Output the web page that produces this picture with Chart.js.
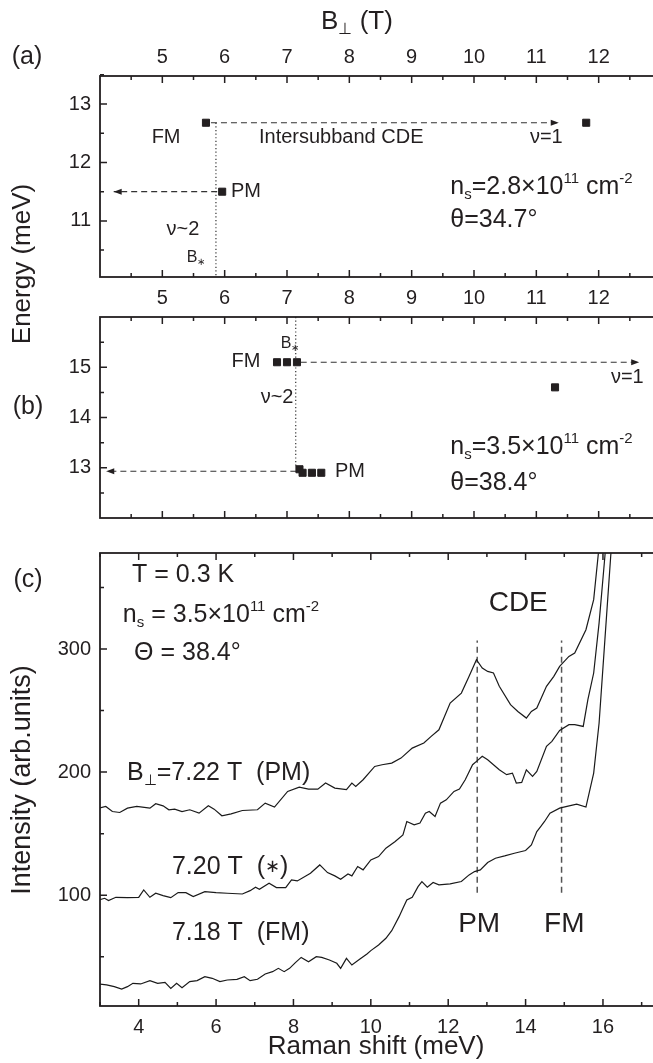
<!DOCTYPE html>
<html><head><meta charset="utf-8">
<script src="https://cdn.jsdelivr.net/npm/chart.js@4.4.1/dist/chart.umd.min.js"></script>
<style>
html,body{margin:0;padding:0;overflow:hidden;background:#fff;width:653px;height:1063px}
#wrap{position:absolute;left:0;top:0;width:680px;height:1063px}
canvas{position:absolute;left:0;top:0}
</style></head><body><div id="wrap">
<canvas id="ca" width="680" height="1063"></canvas>
<canvas id="cb" width="680" height="1063"></canvas>
<canvas id="cc" width="680" height="1063"></canvas>
</div>
<script>
// ---------- DATA ----------
// Panel (a): B_perp (T) vs energy (meV), ns=2.8e11
const aXTicks = [4.5,5,5.5,6,6.5,7,7.5,8,8.5,9,9.5,10,10.5,11,11.5,12,12.5];
const aXLabels = [5,6,7,8,9,10,11,12];
const aYTicks = [10.5,11,11.5,12,12.5,13,13.5];
const aYLabels = [11,12,13];
const aPointsX = [5.70, 11.80, 5.96];
const aPointsY = [12.68, 12.68, 11.50];
const aArrowCDE_X = [5.78, 11.36], aArrowCDE_Y = [12.68, 12.68];
const aArrowPM_X = [5.88, 4.22],  aArrowPM_Y = [11.50, 11.50];
const aBstar_X = [5.86, 5.86],    aBstar_Y = [12.68, 10.04];

// Panel (b): ns=3.5e11
const bXTicks = aXTicks;
const bYTicks = [12.5,13,13.5,14,14.5,15,15.5];
const bYLabels = [13,14,15];
const bFMX = [6.84, 7.00, 7.16], bFMY = [15.1, 15.1, 15.1];
const bNu1X = [11.3], bNu1Y = [14.6];
const bPMX = [7.20, 7.25, 7.40, 7.55], bPMY = [12.97, 12.90, 12.90, 12.90];
const bArrowFM_X = [7.22, 12.65], bArrowFM_Y = [15.1, 15.1];
const bArrowPM_X = [7.15, 4.10],  bArrowPM_Y = [12.93, 12.93];
const bBstar_X = [7.14, 7.14],    bBstar_Y = [16.0, 13.0];

// Panel (c): Raman shift (meV) vs intensity (arb. units)
const cXTicks = [3,4,5,6,7,8,9,10,11,12,13,14,15,16,17];
const cXLabels = [4,6,8,10,12,14,16];
const cYTicks = [50,100,150,200,250,300,350];
const cYLabels = [100,200,300];
const pmX = [2.98,3.15,3.32,3.51,3.71,3.95,4.29,4.44,4.63,4.78,4.93,5.12,5.32,5.56,5.80,5.95,6.15,6.39,6.68,7.07,7.27,7.51,7.85,8.15,8.39,8.63,8.83,9.07,9.37,9.51,9.61,9.80,10.10,10.29,10.54,10.78,11.07,11.37,11.56,11.76,12.05,12.34,12.54,12.73,12.88,13.02,13.17,13.32,13.61,13.80,14.02,14.15,14.29,14.54,14.73,14.88,15.12,15.27,15.56,15.76,15.90];
const pmY = [170.7,172.1,168.0,167.2,170.7,172.1,170.7,174.3,172.6,169.4,169.9,168.0,169.4,166.7,172.6,169.9,164.5,166.1,168.8,169.4,174.8,171.6,184.3,187.8,186.2,186.2,191.1,187.0,185.7,191.1,188.4,193.8,204.6,206.0,207.3,211.4,219.5,223.6,229.0,234.4,256.1,264.2,277.8,291.3,284.6,281.8,280.5,269.7,254.8,249.3,243.9,249.3,252.1,269.7,277.8,285.9,294.0,296.8,315.7,340.1,383.5];
const midX = [2.98,3.12,3.22,3.41,3.71,4.00,4.13,4.29,4.44,4.63,4.83,5.02,5.22,5.41,5.71,6.00,6.29,6.68,6.88,7.02,7.12,7.37,7.56,7.80,7.95,8.10,8.44,8.68,8.88,9.07,9.22,9.41,9.51,9.66,9.80,10.00,10.20,10.39,10.63,10.83,10.93,11.12,11.27,11.41,11.51,11.66,11.80,11.95,12.15,12.29,12.44,12.63,12.73,12.88,13.02,13.32,13.51,13.66,13.76,13.90,14.02,14.18,14.29,14.54,14.68,14.88,15.12,15.27,15.49,15.61,15.76,15.90,16.05,16.10];
const midY = [96.2,97.5,95.6,98.3,98.0,98.3,104.3,98.3,101.6,99.7,98.0,102.1,102.1,98.9,102.9,102.1,101.6,101.0,103.7,106.5,104.8,109.7,106.2,106.2,112.4,111.6,117.8,124.6,118.4,115.7,113.0,117.3,115.7,123.3,120.6,128.7,131.4,138.2,143.6,149.0,159.9,157.2,158.6,166.7,168.0,164.0,174.8,177.5,184.3,186.2,193.8,206.0,208.7,212.8,210.0,201.9,197.9,199.2,191.1,191.6,201.9,196.5,200.6,220.9,225.0,233.9,238.5,238.5,237.1,258.8,280.5,321.2,375.4,395.0];
const fmX = [2.98,3.17,3.37,3.56,3.71,3.85,4.05,4.29,4.49,4.68,4.83,4.98,5.12,5.32,5.51,5.71,5.90,6.10,6.29,6.54,6.73,6.88,7.07,7.27,7.46,7.61,7.76,7.90,8.05,8.20,8.39,8.59,8.73,8.93,9.12,9.22,9.37,9.51,9.71,9.90,10.00,10.20,10.39,10.54,10.73,10.83,10.93,11.07,11.22,11.32,11.46,11.61,11.76,12.05,12.34,12.54,12.68,12.83,13.02,13.22,13.46,13.71,14.00,14.15,14.29,14.39,14.49,14.63,14.88,15.07,15.32,15.56,15.76,15.90,16.05,16.20,16.25];
const fmY = [27.9,27.1,25.7,23.8,25.7,28.4,27.9,30.6,28.4,29.2,24.3,28.4,24.9,29.8,30.6,33.8,32.5,29.8,31.1,31.7,33.8,30.6,31.7,36.0,37.9,40.6,37.9,40.6,45.2,49.5,46.0,50.1,49.5,47.4,44.7,40.6,48.7,43.3,47.9,52.3,55.0,59.6,65.0,71.2,82.6,89.4,96.2,98.3,107.0,111.1,106.5,110.3,108.4,109.2,111.1,116.5,119.2,120.6,126.5,130.0,131.9,134.1,136.3,140.9,151.7,155.8,159.9,166.7,170.7,172.1,174.0,171.6,199.2,239.9,307.6,375.4,395.0];
const cPMLineX = [12.75, 12.75], cPMLineY = [102, 307];
const cFMLineX = [14.93, 14.93], cFMLineY = [102, 307];

// ---------- STYLE / LAYOUT ----------
const FONT = '"Liberation Sans", Arial, Helvetica, sans-serif';
const INK = '#231f20';
const CW = 680, CH = 1063, RIGHT = 661;
const SUB = 'sub', SUP = 'sup', SMALL = 'small';

const zip = (xs, ys) => xs.map((x, i) => ({x, y: ys[i]}));

function drawRich(ctx, x, y, parts, size, align) {
  const pieces = parts.map(p => {
    const mode = p[1] || '';
    const s = mode === SMALL ? size * 0.72 : (mode ? size * 0.6 : size);
    ctx.font = `${s}px ${FONT}`;
    return {t: p[0], mode, s, w: ctx.measureText(p[0]).width};
  });
  const total = pieces.reduce((a, b) => a + b.w, 0);
  let cx = align === 'center' ? x - total / 2 : (align === 'right' ? x - total : x);
  ctx.textAlign = 'left'; ctx.textBaseline = 'middle'; ctx.fillStyle = INK;
  for (const p of pieces) {
    ctx.font = `${p.s}px ${FONT}`;
    const dy = p.mode === SUB ? size * 0.3 : (p.mode === SUP ? -size * 0.32 : 0);
    ctx.fillText(p.t, cx, y + dy);
    cx += p.w;
  }
}

function axisX(ticks, labels, pos, height, min, max, showLabels, pad) {
  return {
    type: 'linear', position: pos, min, max,
    afterBuildTicks: s => { s.ticks = ticks.map(v => ({value: v})); },
    ticks: {display: showLabels, autoSkip: false, maxRotation: 0, padding: pad,
      font: {size: 20, family: FONT}, color: INK,
      callback: v => labels.includes(v) ? String(v) : ''},
    grid: {display: false, drawTicks: false}, border: {display: false},
    afterFit: s => { s.height = height; }
  };
}
function axisY(ticks, labels, min, max) {
  return {
    type: 'linear', position: 'left', min, max,
    afterBuildTicks: s => { s.ticks = ticks.map(v => ({value: v})); },
    ticks: {autoSkip: false, padding: 9, font: {size: 20, family: FONT}, color: INK,
      callback: v => labels.includes(v) ? String(v) : ''},
    grid: {display: false, drawTicks: false}, border: {display: false},
    afterFit: s => { s.width = 100; }
  };
}

function framePlugin(xMajor, yMajor) {
  return {
    id: 'frame',
    afterDatasetsDraw(chart) {
      const ctx = chart.ctx, a = chart.chartArea;
      const xs = chart.scales.x, ys = chart.scales.y;
      ctx.save();
      ctx.strokeStyle = INK; ctx.lineWidth = 1.5;
      for (const t of xs.ticks) {
        const px = xs.getPixelForValue(t.value);
        const L = xMajor.includes(t.value) ? 7 : 4;
        ctx.beginPath();
        ctx.moveTo(px, a.bottom); ctx.lineTo(px, a.bottom - L);
        ctx.moveTo(px, a.top); ctx.lineTo(px, a.top + L);
        ctx.stroke();
      }
      for (const t of ys.ticks) {
        const py = ys.getPixelForValue(t.value);
        const L = yMajor.includes(t.value) ? 7 : 4;
        ctx.beginPath();
        ctx.moveTo(a.left, py); ctx.lineTo(a.left + L, py);
        ctx.moveTo(a.right, py); ctx.lineTo(a.right - L, py);
        ctx.stroke();
      }
      ctx.lineWidth = 1.8;
      ctx.strokeRect(a.left, a.top, a.right - a.left, a.bottom - a.top);
      // arrowheads
      chart.data.datasets.forEach((ds, i) => {
        if (!ds.arrowEnd) return;
        const pts = chart.getDatasetMeta(i).data;
        const p1 = pts[pts.length - 2], p2 = pts[pts.length - 1];
        const ang = Math.atan2(p2.y - p1.y, p2.x - p1.x);
        ctx.save();
        ctx.translate(p2.x, p2.y); ctx.rotate(ang);
        ctx.fillStyle = INK;
        ctx.beginPath(); ctx.moveTo(0, 0); ctx.lineTo(-8, -3); ctx.lineTo(-8, 3); ctx.closePath(); ctx.fill();
        ctx.restore();
      });
      ctx.restore();
    }
  };
}

function notesPlugin(notes, extra) {
  return {
    id: 'notes',
    afterDraw(chart) {
      const ctx = chart.ctx, xs = chart.scales.x, ys = chart.scales.y;
      ctx.save();
      for (const n of notes) {
        drawRich(ctx, xs.getPixelForValue(n.x), ys.getPixelForValue(n.y), n.parts, n.size, n.align);
      }
      if (extra) extra(ctx);
      ctx.restore();
    }
  };
}

function rotated(ctx, text, x, y, size) {
  ctx.save();
  ctx.translate(x, y); ctx.rotate(-Math.PI / 2);
  ctx.font = `${size}px ${FONT}`; ctx.fillStyle = INK;
  ctx.textAlign = 'center'; ctx.textBaseline = 'middle';
  ctx.fillText(text, 0, 0);
  ctx.restore();
}

const pointDS = (data) => ({data, showLine: false, pointStyle: 'rect', pointRadius: 5,
  pointBackgroundColor: INK, pointBorderColor: INK, pointBorderWidth: 1});
const dashDS = (data, arrow, dash) => ({data, borderColor: '#333', borderWidth: 1.2,
  borderDash: dash || [6, 4], pointRadius: 0, arrowEnd: !!arrow, tension: 0});
const curveDS = (data) => ({data, borderColor: '#1a1a1a', borderWidth: 1.2, pointRadius: 0, tension: 0});

function make(id, datasets, scales, padTop, padBottom, plugins) {
  return new Chart(document.getElementById(id), {
    type: 'line',
    data: {datasets},
    options: {
      responsive: false, animation: false, devicePixelRatio: 1,
      layout: {padding: {left: 0, right: CW - RIGHT, top: padTop, bottom: padBottom}},
      plugins: {legend: {display: false}, tooltip: {enabled: false}},
      scales
    },
    plugins
  });
}

// ---------- PANEL (a) ----------
const aNotes = [
  {x: 5.06, y: 12.42, parts: [['FM']], size: 20, align: 'center'},
  {x: 7.87, y: 12.42, parts: [['Intersubband CDE']], size: 20, align: 'center'},
  {x: 11.16, y: 12.42, parts: [['ν=1']], size: 20, align: 'center'},
  {x: 6.10, y: 11.50, parts: [['PM']], size: 20, align: 'left'},
  {x: 5.33, y: 10.85, parts: [['ν~2']], size: 20, align: 'center'},
  {x: 5.54, y: 10.38, parts: [['B'], ['∗', SUB]], size: 16, align: 'center'},
  {x: 9.62, y: 11.58, parts: [['n'], ['s', SUB], ['=2.8×10'], ['11', SUP], [' cm'], ['-2', SUP]], size: 25, align: 'left'},
  {x: 9.62, y: 11.02, parts: [['θ=34.7°']], size: 25, align: 'left'}
];
make('ca', [
  pointDS(zip(aPointsX, aPointsY)),
  dashDS(zip(aArrowCDE_X, aArrowCDE_Y), true),
  dashDS(zip(aArrowPM_X, aArrowPM_Y), true),
  dashDS(zip(aBstar_X, aBstar_Y), false, [1.2, 2.4])
], {
  x: axisX(aXTicks, aXLabels, 'bottom', 35, 4, 13, true, 9),
  x2: axisX(aXTicks, aXLabels, 'top', 76, 4, 13, true, 7),
  y: axisY(aYTicks, aYLabels, 10.04, 13.48)
}, 0, CH - 277 - 35, [framePlugin(aXLabels, aYLabels), notesPlugin(aNotes, ctx => {
  drawRich(ctx, 357, 22, [['B'], ['⊥', SUB], [' (T)']], 26, 'center');
  drawRich(ctx, 27, 57, [['(a)']], 25, 'center');
  drawRich(ctx, 28, 407, [['(b)']], 25, 'center');
  rotated(ctx, 'Energy (meV)', 23, 264, 26);
})]);

// ---------- PANEL (b) ----------
const bNotes = [
  {x: 6.34, y: 15.12, parts: [['FM']], size: 20, align: 'center'},
  {x: 7.05, y: 15.48, parts: [['B'], ['∗', SUB]], size: 16, align: 'center'},
  {x: 6.84, y: 14.39, parts: [['ν~2']], size: 20, align: 'center'},
  {x: 7.77, y: 12.92, parts: [['PM']], size: 20, align: 'left'},
  {x: 12.46, y: 14.79, parts: [['ν=1']], size: 20, align: 'center'},
  {x: 9.62, y: 13.41, parts: [['n'], ['s', SUB], ['=3.5×10'], ['11', SUP], [' cm'], ['-2', SUP]], size: 25, align: 'left'},
  {x: 9.62, y: 12.70, parts: [['θ=38.4°']], size: 25, align: 'left'}
];
make('cb', [
  pointDS(zip(bFMX, bFMY)),
  pointDS(zip(bNu1X, bNu1Y)),
  pointDS(zip(bPMX, bPMY)),
  dashDS(zip(bArrowFM_X, bArrowFM_Y), true),
  dashDS(zip(bArrowPM_X, bArrowPM_Y), true),
  dashDS(zip(bBstar_X, bBstar_Y), false, [1.2, 2.4])
], {
  x: axisX(bXTicks, aXLabels, 'bottom', 20, 4, 13, false, 9),
  x2: axisX(bXTicks, aXLabels, 'top', 20, 4, 13, false, 9),
  y: axisY(bYTicks, bYLabels, 12, 16)
}, 317 - 20, CH - 518 - 20, [framePlugin(aXLabels, bYLabels), notesPlugin(bNotes)]);

// ---------- PANEL (c) ----------
const cNotes = [
  {x: 3.83, y: 360, parts: [['T = 0.3 K']], size: 25, align: 'left'},
  {x: 3.59, y: 327.6, parts: [['n'], ['s', SUB], [' = 3.5×10'], ['11', SUP], [' cm'], ['-2', SUP]], size: 25, align: 'left'},
  {x: 3.88, y: 296.8, parts: [['Θ = 38.4°']], size: 25, align: 'left'},
  {x: 13.81, y: 337.4, parts: [['CDE']], size: 28, align: 'center'},
  {x: 3.70, y: 199.3, parts: [['B'], ['⊥', SUB], ['=7.22 T  (PM)']], size: 25, align: 'left'},
  {x: 4.86, y: 122.9, parts: [['7.20 T  ('], ['∗', SMALL], [')']], size: 25, align: 'left'},
  {x: 4.86, y: 69.3, parts: [['7.18 T  (FM)']], size: 25, align: 'left'},
  {x: 12.80, y: 76.6, parts: [['PM']], size: 28, align: 'center'},
  {x: 15.00, y: 76.6, parts: [['FM']], size: 28, align: 'center'}
];
make('cc', [
  curveDS(zip(pmX, pmY)),
  curveDS(zip(midX, midY)),
  curveDS(zip(fmX, fmY)),
  Object.assign(dashDS(zip(cPMLineX, cPMLineY), false, [6, 4]), {borderColor: '#555', borderWidth: 1.5}),
  Object.assign(dashDS(zip(cFMLineX, cFMLineY), false, [6, 4]), {borderColor: '#555', borderWidth: 1.5})
], {
  x: axisX(cXTicks, cXLabels, 'bottom', 57, 3, 17.5, true, 9),
  x2: axisX(cXTicks, cXLabels, 'top', 20, 3, 17.5, false, 9),
  y: axisY(cYTicks, cYLabels, 10, 378)
}, 553 - 20, 0, [framePlugin(cXLabels, cYLabels), notesPlugin(cNotes, ctx => {
  drawRich(ctx, 28, 580, [['(c)']], 25, 'center');
  rotated(ctx, 'Intensity (arb.units)', 23, 780, 27);
  drawRich(ctx, 376, 1047, [['Raman shift (meV)']], 26, 'center');
})]);
</script>
</body></html>
